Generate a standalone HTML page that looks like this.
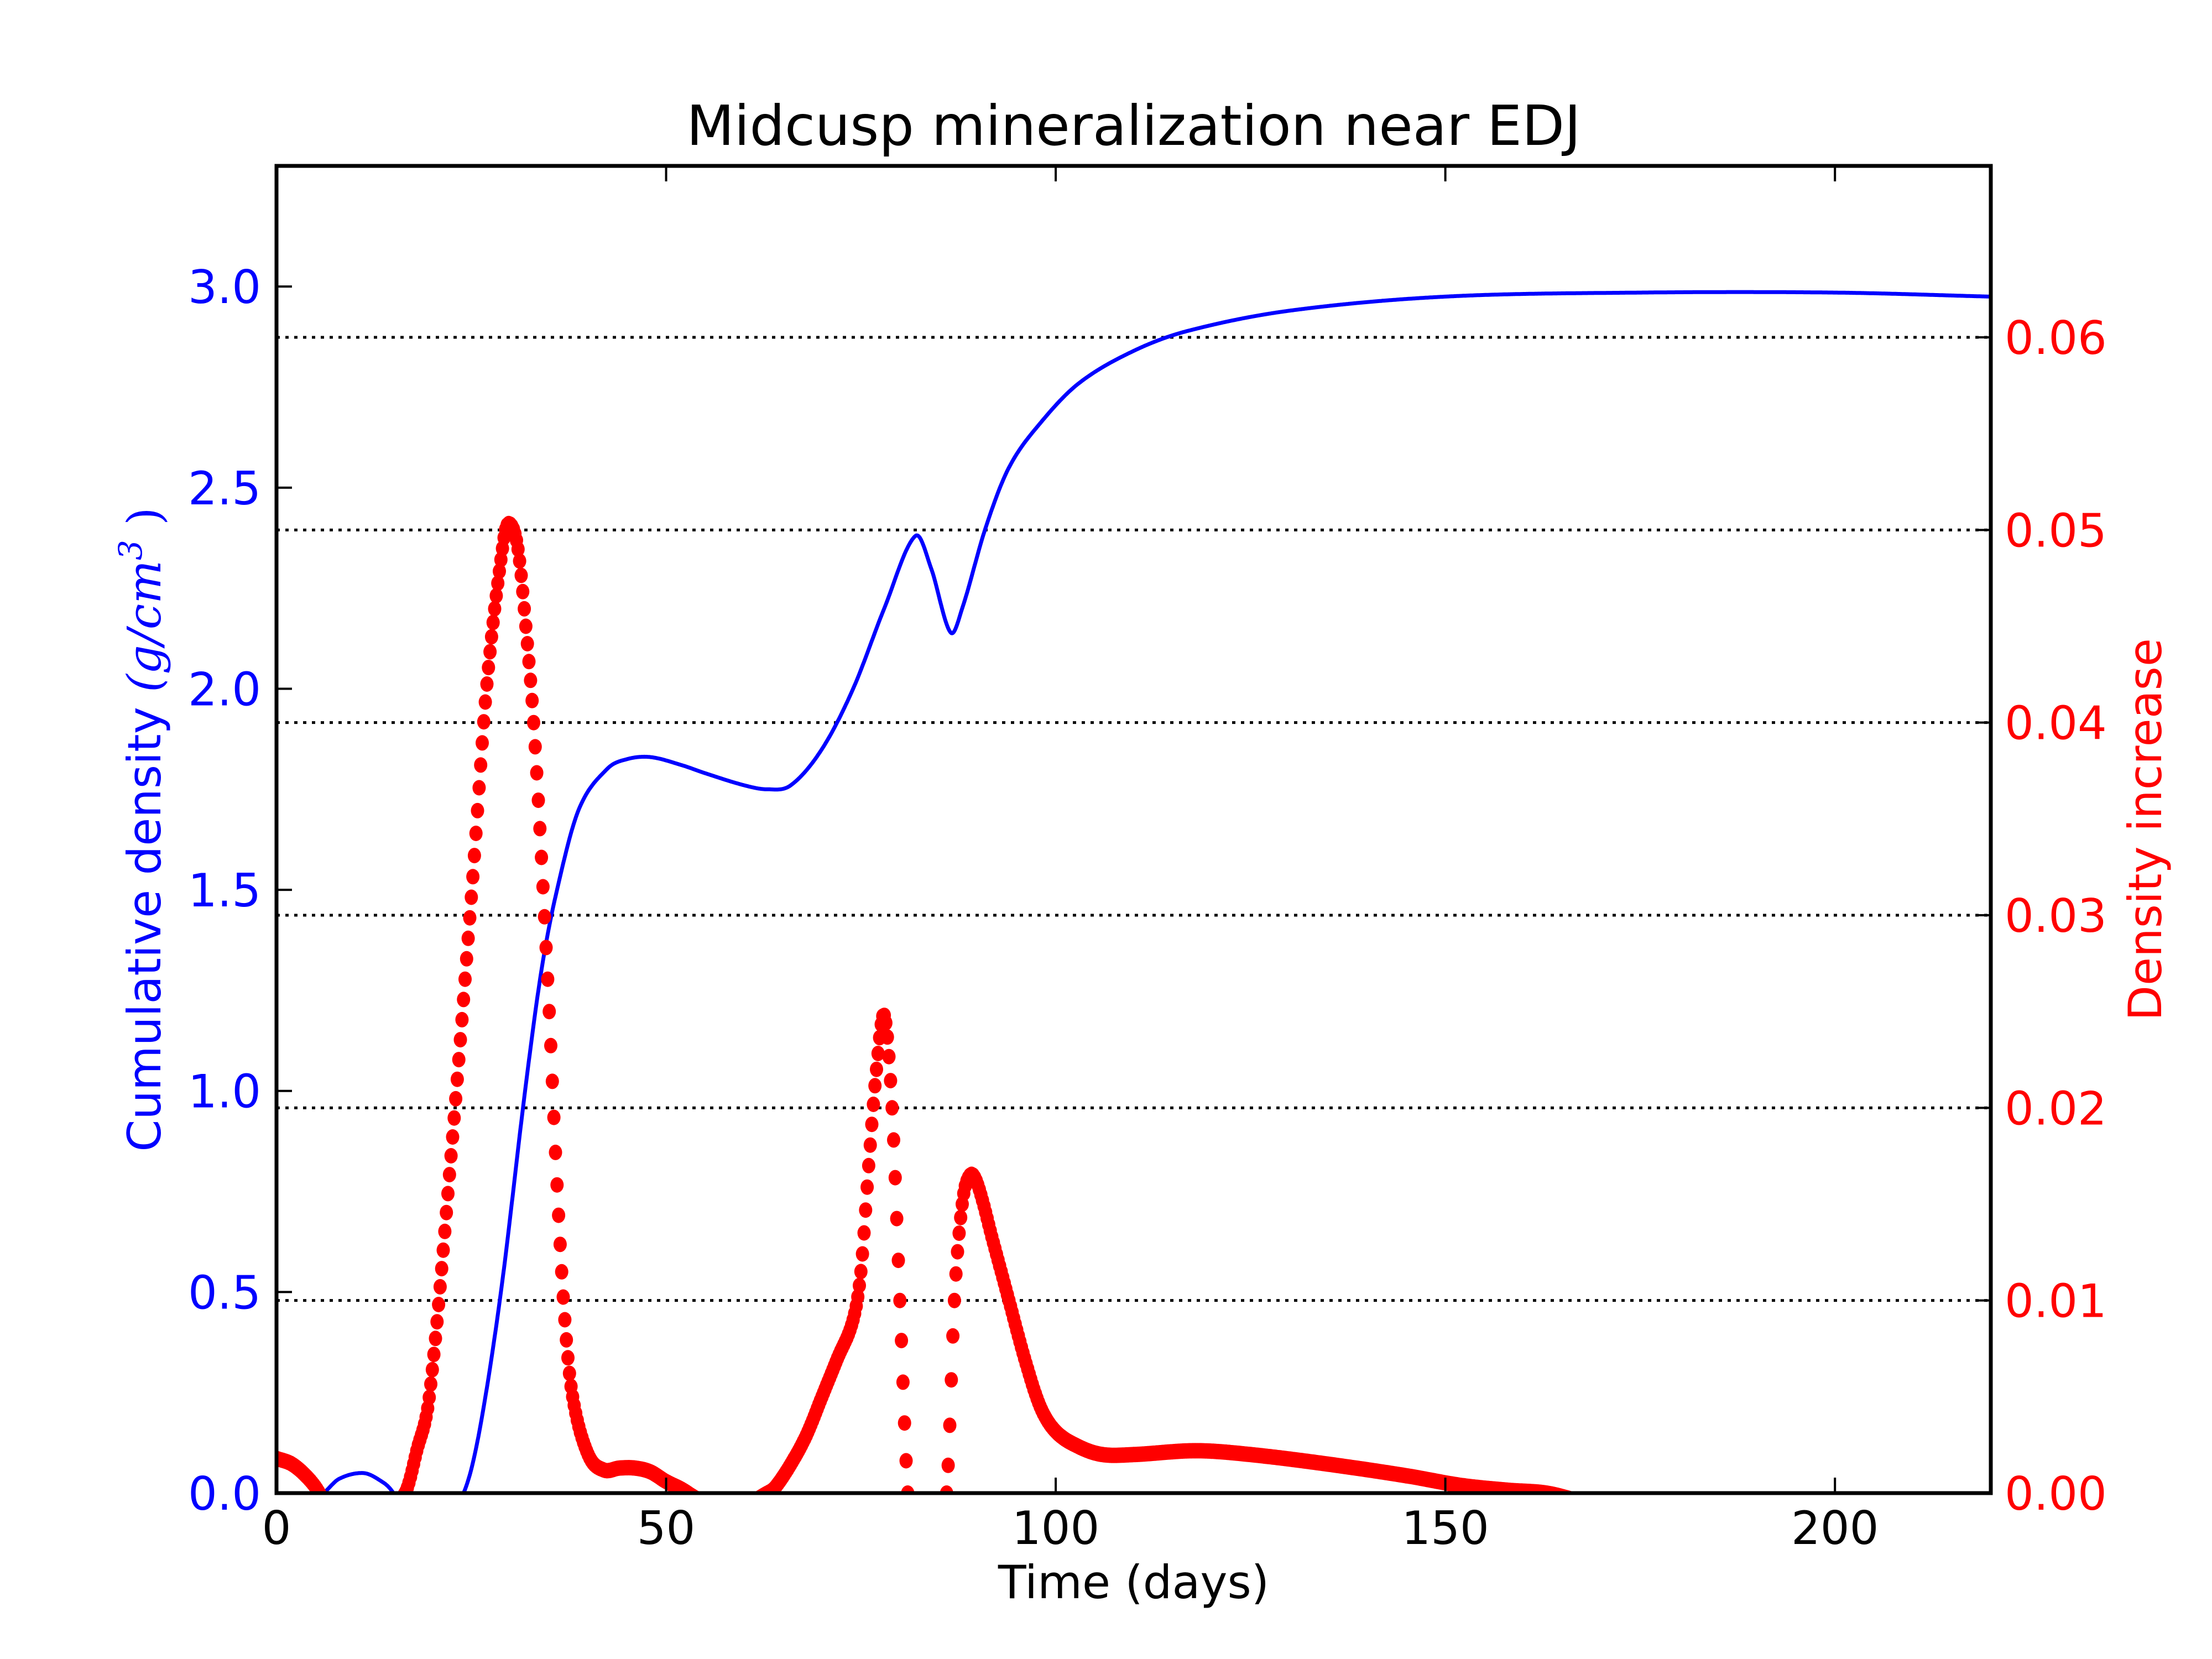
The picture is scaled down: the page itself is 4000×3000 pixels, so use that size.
<!DOCTYPE html>
<html><head><meta charset="utf-8">
<style>
html,body{margin:0;padding:0;background:#fff;}
svg{display:block;}
text{font-family:"DejaVu Sans","Liberation Sans",sans-serif;}
</style></head>
<body>
<svg id="chart" width="4000" height="3000" viewBox="0 0 4000 3000" xmlns="http://www.w3.org/2000/svg">
<rect width="4000" height="3000" fill="#fff"/>
<defs><clipPath id="plotclip"><rect x="500" y="300" width="3100" height="2400"/></clipPath></defs>
<g id="grid"></g>
<g id="series" clip-path="url(#plotclip)"></g>
<rect x="500" y="300" width="3100" height="2400" fill="none" stroke="#000" stroke-width="7"/>
<g id="ticks"></g>
<text x="2050" y="262" font-size="100" text-anchor="middle" fill="#000">Midcusp mineralization near EDJ</text>
<text x="2050" y="2890" font-size="83" text-anchor="middle" fill="#000">Time (days)</text>
<text transform="translate(290,1500) rotate(-90)" font-size="83" text-anchor="middle" fill="#0000ff">Cumulative density <tspan font-family="'DejaVu Serif','Liberation Serif',serif" font-style="italic">(g/cm</tspan><tspan font-family="'DejaVu Serif','Liberation Serif',serif" font-style="italic" font-size="58" dy="-34">3</tspan><tspan font-family="'DejaVu Serif','Liberation Serif',serif" dy="34"> )</tspan></text>
<text transform="translate(3908,1500) rotate(-90)" font-size="83" text-anchor="middle" fill="#ff0000">Density increase</text>
</svg>
<script>
const xTicks=[0,50,100,150,200];
const leftTicks=[0.0,0.5,1.0,1.5,2.0,2.5,3.0];
const leftTickLabels=["0.0","0.5","1.0","1.5","2.0","2.5","3.0"];
const rightTicks=[0.00,0.01,0.02,0.03,0.04,0.05,0.06];
const rightTickLabels=["0.00","0.01","0.02","0.03","0.04","0.05","0.06"];
const blueDays=[0,3,6,8,11,13,15,19,24,26,28.8,31.9,34,36,38.8,42.4,45,48,52,55,60,63,66,70,74,78,82,84,86.5,88,91,94,98,103,110,117,130,150,175,200,220];
const blueValues=[-0.05,-0.03,0,0.035,0.05,0.035,0,-0.15,0,0.15,0.5,1.0,1.3,1.5,1.7,1.8,1.825,1.83,1.81,1.79,1.76,1.75,1.76,1.85,2.0,2.2,2.38,2.3,2.14,2.2,2.4,2.55,2.66,2.76,2.84,2.89,2.94,2.975,2.985,2.985,2.975];
const redDays=[0,2,4,5.5,8,12,16.5,18,19.7,22.5,25.2,27,29.2,30,31,32,33,34,35,36,37,38,40,42,44,46,48,50,52,54,58,63,64,66,68,70,72,74,75,76,77,78,79,80,81,82,84,86,87,88,89,90,92,94,96,98,100,103,106,110,118,125,135,145,152,158,163,170,220];
const redValues=[0.0018,0.0015,0.0008,0,-0.002,-0.002,0,0.0022,0.0053,0.018,0.032,0.042,0.0496,0.0503,0.049,0.045,0.04,0.033,0.025,0.016,0.009,0.005,0.002,0.0012,0.0013,0.0013,0.0011,0.0006,0.0002,-0.0003,-0.001,0,0.0003,0.0015,0.003,0.005,0.007,0.009,0.0115,0.017,0.022,0.0248,0.02,0.01,0,-0.005,-0.005,0,0.01,0.015,0.0165,0.016,0.013,0.01,0.007,0.0045,0.0032,0.0024,0.002,0.002,0.0022,0.002,0.0015,0.0009,0.0004,0.00015,0,-0.0006,-0.0006];

const NS="http://www.w3.org/2000/svg";
const L=500,R=3600,T=300,B=2700;
const xs=d=>L+(d/220)*(R-L);
const yl=v=>B-(v/3.3)*(B-T);
const yr=v=>B-(v/0.0689)*(B-T);
function mk(tag,attrs,parent){const e=document.createElementNS(NS,tag);for(const k in attrs)e.setAttribute(k,attrs[k]);parent.appendChild(e);return e;}
const grid=document.getElementById('grid'),ticks=document.getElementById('ticks'),series=document.getElementById('series'),svg=document.getElementById('chart');

rightTicks.forEach((v,i)=>{
  if(v>0){const g=mk('line',{x1:L,x2:R,y1:yr(v),y2:yr(v),stroke:'#000','stroke-width':5,'stroke-dasharray':'6 10'},grid);
  
  }
  const t=mk('line',{x1:R,x2:R-28,y1:yr(v),y2:yr(v),stroke:'#000','stroke-width':4},ticks);
  
  
  const tx=mk('text',{x:3625,y:yr(v)+30,'font-size':83,fill:'#ff0000'},svg);
  tx.textContent=rightTickLabels[i];
  
  
});
leftTicks.forEach((v,i)=>{
  const t=mk('line',{x1:L,x2:L+28,y1:yl(v),y2:yl(v),stroke:'#000','stroke-width':4},ticks);
  
  
  const tx=mk('text',{x:472,y:yl(v)+30,'font-size':83,fill:'#0000ff','text-anchor':'end'},svg);
  tx.textContent=leftTickLabels[i];
  
  
});
xTicks.forEach(v=>{
  const t1=mk('line',{x1:xs(v),x2:xs(v),y1:B,y2:B-28,stroke:'#000','stroke-width':4},ticks);
  
  
  const t2=mk('line',{x1:xs(v),x2:xs(v),y1:T,y2:T+28,stroke:'#000','stroke-width':4},ticks);
  
  
  const tx=mk('text',{x:xs(v),y:2792,'font-size':83,fill:'#000','text-anchor':'middle'},svg);
  tx.textContent=String(v);
  
  
});

function cr(X,Y,x){
  let i=0;while(i<X.length-2&&x>X[i+1])i++;
  const x0=X[Math.max(i-1,0)],x1=X[i],x2=X[i+1],x3=X[Math.min(i+2,X.length-1)];
  const y0=Y[Math.max(i-1,0)],y1=Y[i],y2=Y[i+1],y3=Y[Math.min(i+2,Y.length-1)];
  const m1=(y2-y0)/((x2-x0)||1)*(x2-x1),m2=(y3-y1)/((x3-x1)||1)*(x2-x1);
  const t=(x-x1)/(x2-x1),t2=t*t,t3=t2*t;
  return (2*t3-3*t2+1)*y1+(t3-2*t2+t)*m1+(-2*t3+3*t2)*y2+(t3-t2)*m2;
}
let d='';
for(let x=0;x<=220;x+=0.1){d+=(d?'L':'M')+xs(x).toFixed(1)+' '+yl(cr(blueDays,blueValues,x)).toFixed(1);}
const bl=mk('path',{d:d,fill:'none',stroke:'#0000ff','stroke-width':7,'stroke-linejoin':'round'},series);


const rg=mk('g',{fill:'#ff0000'},series);


for(let x=0;x<=220;x+=0.2){
  const v=cr(redDays,redValues,x);
  if(v<-0.0004)continue;
  const c=mk('ellipse',{cx:xs(x).toFixed(1),cy:yr(v).toFixed(1),rx:12,ry:14},rg);
  
  
}
</script>
</body></html>
